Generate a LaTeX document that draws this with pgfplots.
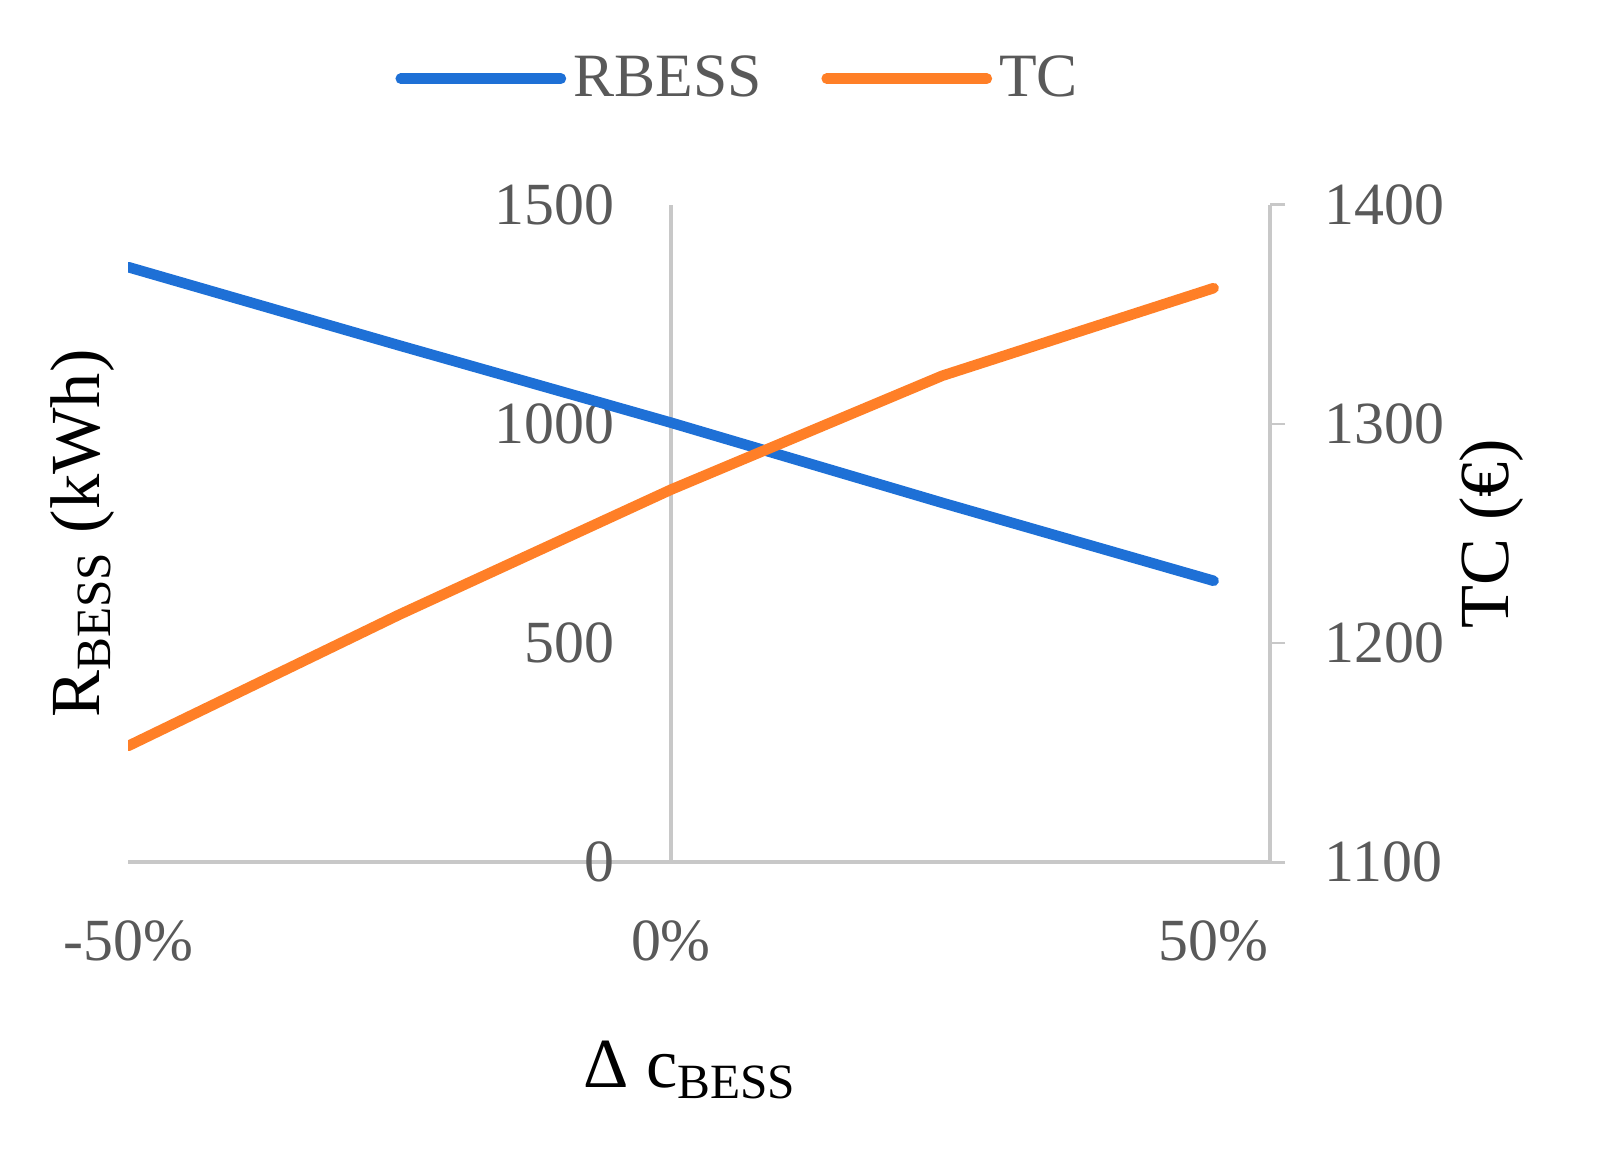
\documentclass[border=0pt]{standalone}
\usepackage{fontspec}
\setmainfont{Liberation Serif}
\usepackage{pgfplots}
\pgfplotsset{compat=1.18}
\definecolor{cblue}{RGB}{30,112,214}
\definecolor{corange}{RGB}{255,127,39}
\definecolor{axgray}{RGB}{200,200,200}
\definecolor{txtgray}{RGB}{89,89,89}
\newcommand{\tickfont}{\fontsize{17}{20}\selectfont}
\newcommand{\titlefont}{\fontsize{20}{24}\selectfont}
\begin{document}
\begin{tikzpicture}
\path[use as bounding box] (0,0) rectangle (456.8pt,332.4pt);
\begin{axis}[
  at={(36.4pt,87.5pt)}, anchor=south west,
  scale only axis, width=324.4pt, height=186.7pt,
  xmin=-50, xmax=55.2, ymin=0, ymax=1500,
  axis x line=bottom, axis y line=middle,
  hide obscured x ticks=false, hide obscured y ticks=false,
  axis line style={-, draw=axgray, line width=1pt},
  xtick={-50,0,50}, xticklabels={-50\%,0\%,50\%},
  ytick={0,500,1000,1500},
  major tick style={draw=none},
  /pgf/number format/assume math mode=true,
  /pgf/number format/set thousands separator={},
  tick label style={font=\tickfont, text=txtgray},
  xticklabel style={anchor=center, yshift=-20.2pt},
  yticklabel style={anchor=east, inner sep=0pt, xshift=-13.8pt},
  every axis y label/.style={at={(axis description cs:-0.040,0.5)}, rotate=90, anchor=center},
  every axis x label/.style={at={(axis description cs:0.492,-0.317)}, anchor=center},
  ylabel={\titlefont R\textsubscript{BESS} (kWh)},
  xlabel={\titlefont Δ c\textsubscript{BESS}},
]
\addplot[cblue, line width=3pt, line cap=round, line join=round] coordinates {
  (-50,1358) (-25,1179) (0,1003) (25,820) (50,642)
};
\end{axis}
\begin{axis}[
  at={(36.4pt,87.5pt)}, anchor=south west,
  scale only axis, width=324.4pt, height=186.7pt,
  xmin=-50, xmax=55.2, ymin=1100, ymax=1400,
  axis x line=none, axis y line*=right,
  axis line style={-, draw=axgray, line width=1pt},
  ytick={1100,1200,1300,1400},
  tick align=outside, major tick length=4.3pt,
  major tick style={draw=axgray, line width=0.8pt},
  /pgf/number format/assume math mode=true,
  /pgf/number format/set thousands separator={},
  tick label style={font=\tickfont, text=txtgray},
  yticklabel style={anchor=west, inner sep=0pt, xshift=11pt},
  every axis y label/.style={at={(axis description cs:1.194,0.5)}, rotate=90, anchor=center},
  ylabel={\titlefont TC (€)},
  legend style={at={(axis description cs:0.536,1.192)}, anchor=center, draw=none, fill=none,
    font=\fontsize{17.5}{20}\selectfont, text=txtgray,
    /tikz/every even column/.append style={column sep=15pt}},
  legend columns=2,
  legend image code/.code={\draw[#1, line cap=round] (0pt,0pt) -- (45.5pt,0pt);},
]
\addlegendimage{cblue, line width=3pt}
\addlegendentry{RBESS}
\addplot[corange, line width=3pt, line cap=round, line join=round] coordinates {
  (-50,1153) (-25,1213) (0,1270) (25,1322) (50,1362)
};
\addlegendentry{TC}
\end{axis}
\end{tikzpicture}
\end{document}
